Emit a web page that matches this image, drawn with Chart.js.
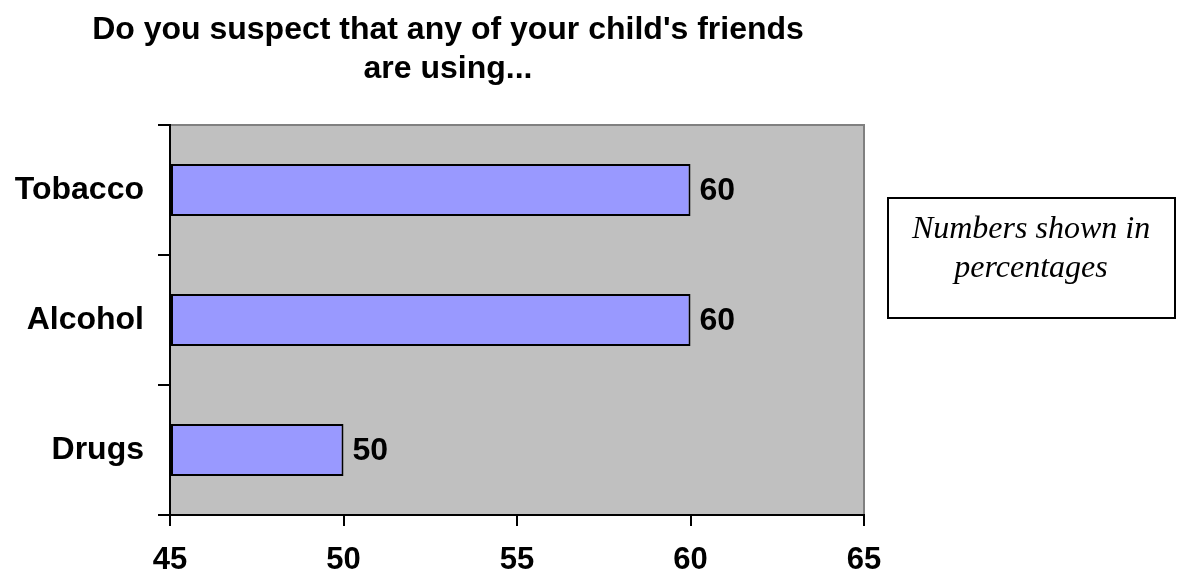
<!DOCTYPE html>
<html>
<head>
<meta charset="utf-8">
<script src="https://cdn.jsdelivr.net/npm/chart.js@4"></script>
<style>
  html, body { margin: 0; padding: 0; background: #fff; }
  #wrap { width: 1180px; height: 578px; }
</style>
</head>
<body>
<div id="wrap"><canvas id="chart" width="1180" height="578"></canvas></div>
<script>
// data
const categories = ['Tobacco', 'Alcohol', 'Drugs'];
const values = [60, 60, 50];
const xTicks = [45, 50, 55, 60, 65];
const titleLines = ["Do you suspect that any of your child's friends", 'are using...'];
const noteLines = ['Numbers shown in', 'percentages'];

const SANS = '"Liberation Sans", Arial, sans-serif';
const SERIF = '"Liberation Serif", "Times New Roman", serif';

// grey plot area, thin grey frame top/right
const plotBg = {
  id: 'plotBg',
  beforeDraw(chart) {
    const { ctx, chartArea: a } = chart;
    ctx.save();
    ctx.fillStyle = '#c0c0c0';
    ctx.fillRect(a.left, a.top, a.right - a.left, a.bottom - a.top);
    ctx.strokeStyle = '#808080';
    ctx.lineWidth = 2;
    ctx.beginPath();
    ctx.moveTo(a.left, a.top);
    ctx.lineTo(a.right, a.top);
    ctx.lineTo(a.right, a.bottom);
    ctx.stroke();
    ctx.restore();
  }
};

// title + note box
const extras = {
  id: 'extras',
  afterDraw(chart) {
    const ctx = chart.ctx;
    ctx.save();
    ctx.fillStyle = '#000';
    ctx.textAlign = 'center';
    ctx.textBaseline = 'middle';
    ctx.font = 'bold 32px ' + SANS;
    ctx.fillText(titleLines[0], 448, 30);
    ctx.fillText(titleLines[1], 448, 69);

    ctx.fillStyle = '#fff';
    ctx.fillRect(888, 198, 287, 120);
    ctx.strokeStyle = '#000';
    ctx.lineWidth = 2;
    ctx.strokeRect(888, 198, 287, 120);
    ctx.fillStyle = '#000';
    ctx.textBaseline = 'alphabetic';
    ctx.font = 'italic 32px ' + SERIF;
    ctx.fillText(noteLines[0], 1031, 238);
    ctx.fillText(noteLines[1], 1031, 277);
    ctx.restore();
  }
};

// value labels at bar ends
const valueLabels = {
  id: 'valueLabels',
  afterDatasetsDraw(chart) {
    const ctx = chart.ctx;
    const meta = chart.getDatasetMeta(0);
    ctx.save();
    ctx.fillStyle = '#000';
    ctx.font = 'bold 32px ' + SANS;
    ctx.textAlign = 'left';
    ctx.textBaseline = 'middle';
    meta.data.forEach((bar, i) => {
      ctx.fillText(String(values[i]), bar.x + 9, bar.y + 1);
    });
    ctx.restore();
  }
};

new Chart(document.getElementById('chart').getContext('2d'), {
  type: 'bar',
  data: {
    labels: categories,
    datasets: [
      {
        data: values,
        base: 45,
        backgroundColor: '#9999ff',
        borderColor: '#000',
        borderWidth: 2,
        borderSkipped: false,
        categoryPercentage: 1,
        barPercentage: 0.4,
      },
    ],
  },
  options: {
    indexAxis: 'y',
    responsive: false,
    animation: false,
    layout: { padding: { top: 125, right: 316, left: 0, bottom: 0 } },
    plugins: { legend: { display: false }, tooltip: { enabled: false } },
    scales: {
      x: {
        min: 45,
        max: 65,
        afterBuildTicks(axis) {
          axis.ticks = xTicks.map((v) => ({ value: v }));
        },
        afterFit(axis) { axis.height = 63; },
        border: { color: '#000', width: 2 },
        grid: { drawOnChartArea: false, color: '#000', lineWidth: 2, tickLength: 11 },
        ticks: {
          color: '#000',
          padding: 16,
          font: { family: SANS, size: 31, weight: 'bold' },
        },
      },
      y: {
        afterFit(axis) { axis.width = 170; },
        border: { color: '#000', width: 2 },
        grid: { drawOnChartArea: false, color: '#000', lineWidth: 2, tickLength: 12, offset: true },
        ticks: {
          color: '#000',
          padding: 14,
          font: { family: SANS, size: 32, weight: 'bold' },
        },
      },
    },
  },
  plugins: [plotBg, valueLabels, extras],
});
</script>
</body>
</html>
